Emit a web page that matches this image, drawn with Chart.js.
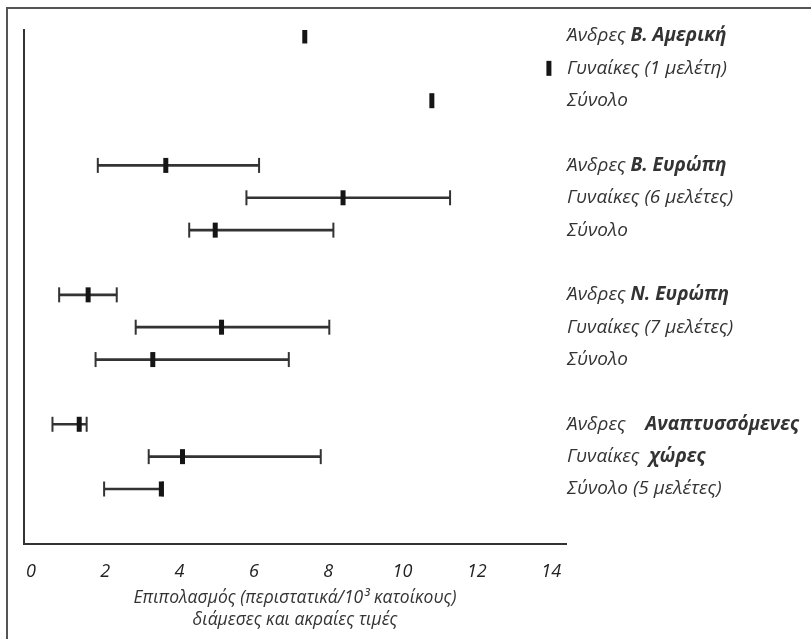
<!DOCTYPE html>
<html>
<head>
<meta charset="utf-8">
<script src="https://cdn.jsdelivr.net/npm/chart.js@4/dist/chart.umd.min.js"></script>
<style>
    html, body { margin: 0; padding: 0; background: #fff; overflow: hidden; }
    #frame {
        position: absolute; left: 6px; top: 7px;
        width: 900px; height: 800px;
        border: 2px solid #555;
    }
    #chart { position: absolute; left: 0; top: 0; }
</style>
</head>
<body>
<div id="frame"></div>
<canvas id="chart" width="811" height="639"></canvas>
<script>
// Rows top to bottom (empty strings are the gaps between regions)
const rowLabels = [
    'Άνδρες ', 'Γυναίκες (1 μελέτη)', 'Σύνολο', '',
    'Άνδρες ', 'Γυναίκες (6 μελέτες)', 'Σύνολο', '',
    'Άνδρες ', 'Γυναίκες (7 μελέτες)', 'Σύνολο', '',
    'Άνδρες    ', 'Γυναίκες  ', 'Σύνολο (5 μελέτες)'
];
const regionNames = [
    'Β. Αμερική', null, null, null,
    'Β. Ευρώπη', null, null, null,
    'Ν. Ευρώπη', null, null, null,
    'Αναπτυσσόμενες', 'χώρες', null
];

// prevalence per 10^3 inhabitants: min, median, max
const minValues    = [null, null, null, null, 1.80, 5.80, 4.26, null, 0.76, 2.82, 1.74, null, 0.58, 3.17, 1.97];
const medianValues = [7.37, 13.94, 10.79, null, 3.63, 8.40, 4.96, null, 1.54, 5.13, 3.28, null, 1.30, 4.08, 3.51];
const maxValues    = [null, null, null, null, 6.14, 11.28, 8.14, null, 2.31, 8.03, 6.94, null, 1.50, 7.80, 3.55];

const xTickValues = [0, 2, 4, 6, 8, 10, 12, 14];
const xTitle = ['Επιπολασμός (περιστατικά/10³ κατοίκους)', 'διάμεσες και ακραίες τιμές'];

const textColor = '#333';
const fontFamily = '"Open Sans", "DejaVu Sans", sans-serif';
const labelSize = 19;
const labelPadding = 1;

// build point / range data from the arrays
const whiskers = [];
const caps = [];
const medians = [];
rowLabels.forEach((_, i) => {
    if (minValues[i] !== null && maxValues[i] !== null) {
        whiskers.push({ x: [minValues[i], maxValues[i]], y: i });
        caps.push({ x: minValues[i], y: i });
        caps.push({ x: maxValues[i], y: i });
    }
    if (medianValues[i] !== null) {
        medians.push({ x: medianValues[i], y: i });
    }
});

// bold region names written after the row labels
const regionLabelPlugin = {
    id: 'regionLabels',
    afterDraw(chart) {
        const scale = chart.scales.y;
        const ctx = chart.ctx;
        ctx.save();
        ctx.textBaseline = 'middle';
        ctx.textAlign = 'left';
        ctx.fillStyle = textColor;
        regionNames.forEach((name, i) => {
            if (!name) return;
            const y = scale.getPixelForValue(i);
            ctx.font = 'italic ' + labelSize + 'px ' + fontFamily;
            const x = scale.left + labelPadding + ctx.measureText(rowLabels[i]).width;
            ctx.font = 'italic bold ' + labelSize + 'px ' + fontFamily;
            ctx.fillText(name, x, y);
        });
        ctx.restore();
    }
};

const ctx = document.getElementById('chart').getContext('2d');
new Chart(ctx, {
    type: 'bar',
    data: {
        datasets: [
            {
                type: 'scatter',
                label: 'median',
                data: medians,
                pointStyle: 'line',
                rotation: 90,
                radius: 7.5,
                borderWidth: 5,
                borderColor: '#151515',
                backgroundColor: '#151515',
                xAxisID: 'x',
                yAxisID: 'y'
            },
            {
                type: 'scatter',
                label: 'range ends',
                data: caps,
                pointStyle: 'line',
                rotation: 90,
                radius: 7.5,
                borderWidth: 2,
                borderColor: '#333',
                backgroundColor: '#333',
                xAxisID: 'x',
                yAxisID: 'y'
            },
            {
                type: 'bar',
                label: 'range',
                indexAxis: 'y',
                data: whiskers,
                barThickness: 2,
                backgroundColor: '#333',
                borderWidth: 0,
                xAxisID: 'x',
                yAxisID: 'y'
            }
        ]
    },
    options: {
        responsive: false,
        animation: false,
        events: [],
        indexAxis: 'y',
        layout: { padding: { left: 24, top: 30, right: 0, bottom: 0 } },
        plugins: {
            legend: { display: false },
            tooltip: { enabled: false }
        },
        scales: {
            x: {
                type: 'linear',
                position: 'bottom',
                offset: false,
                min: -0.186,
                max: 14.40,
                afterBuildTicks: s => { s.ticks = xTickValues.map(v => ({ value: v })); },
                afterFit: s => { s.height = 95; },
                grid: { display: false, drawTicks: false },
                border: { display: true, color: '#333', width: 2 },
                ticks: {
                    padding: 17,
                    color: '#222',
                    font: { family: fontFamily, size: 18, style: 'italic' }
                },
                title: {
                    display: true,
                    text: xTitle,
                    color: textColor,
                    padding: { top: 0, bottom: 8 },
                    font: { family: fontFamily, size: 17.5, style: 'italic', lineHeight: 1.25 }
                }
            },
            y: {
                type: 'linear',
                position: 'right',
                offset: false,
                reverse: true,
                min: -0.185,
                max: 15.7,
                afterBuildTicks: s => { s.ticks = rowLabels.map((_, i) => ({ value: i })); },
                afterFit: s => { s.width = 245; },
                grid: { display: false, drawTicks: false, offset: false },
                border: { display: false },
                ticks: {
                    autoSkip: false,
                    padding: labelPadding,
                    color: textColor,
                    font: { family: fontFamily, size: labelSize, style: 'italic' },
                    callback: v => rowLabels[v]
                }
            },
            yl: {
                type: 'linear',
                position: 'left',
                afterFit: s => { s.width = 0; },
                grid: { display: false, drawTicks: false },
                border: { display: true, color: '#333', width: 2 },
                ticks: { display: false }
            }
        }
    },
    plugins: [regionLabelPlugin]
});
</script>
</body>
</html>
